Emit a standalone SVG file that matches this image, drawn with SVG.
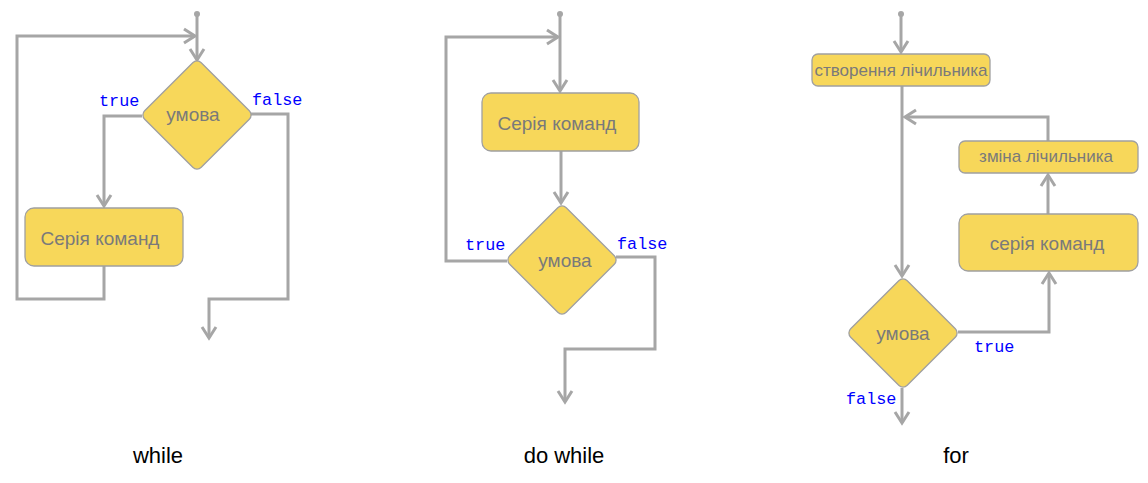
<svg xmlns="http://www.w3.org/2000/svg" width="1148" height="483" viewBox="0 0 1148 483">
<style>
.box{fill:#F7D75A;stroke:#A0A0A0;stroke-width:1.3}
.ln{fill:none;stroke:#A6A6A6;stroke-width:3}
.dot{fill:#A6A6A6}
.t{font-family:"Liberation Sans",Arial,sans-serif;fill:#7A7A7A;text-anchor:middle}
.b{font-family:"Liberation Mono","DejaVu Sans Mono",monospace;fill:#0000FF;font-size:16.8px}
.cap{font-family:"Liberation Sans",Arial,sans-serif;fill:#000;font-size:22px;text-anchor:middle}
</style>
<defs>
<marker id="arr" markerWidth="16" markerHeight="18" refX="13" refY="9" orient="auto" markerUnits="userSpaceOnUse">
<path d="M2,2 L13,9 L2,16" fill="none" stroke="#A6A6A6" stroke-width="3"/>
</marker>
</defs>
<rect width="1148" height="483" fill="#fff"/>
<g id="connectors">
<circle class="dot" cx="197" cy="14" r="3"/>
<path class="ln" d="M197,14 V60" marker-end="url(#arr)"/>
<path class="ln" d="M104,266 V299 H17 V36 H195" marker-end="url(#arr)"/>
<path class="ln" d="M142,116 H104 V206" marker-end="url(#arr)"/>
<path class="ln" d="M251,114 H288 V299 H209 V338" marker-end="url(#arr)"/>
<circle class="dot" cx="560" cy="14" r="3"/>
<path class="ln" d="M560,14 V91" marker-end="url(#arr)"/>
<path class="ln" d="M561,151 V203" marker-end="url(#arr)"/>
<path class="ln" d="M507,261 H446 V37 H558" marker-end="url(#arr)"/>
<path class="ln" d="M616,257 H655 V349 H565 V402" marker-end="url(#arr)"/>
<circle class="dot" cx="901" cy="14" r="3"/>
<path class="ln" d="M901,14 V52" marker-end="url(#arr)"/>
<path class="ln" d="M902,86 V276" marker-end="url(#arr)"/>
<path class="ln" d="M1048,141 V117 H905" marker-end="url(#arr)"/>
<path class="ln" d="M1048,214 V175" marker-end="url(#arr)"/>
<path class="ln" d="M958,332 H1049 V273" marker-end="url(#arr)"/>
<path class="ln" d="M902,388 V423" marker-end="url(#arr)"/>
</g>
<g id="while-cond">
<rect class="box" x="-40" y="-40" width="80" height="80" rx="6" transform="translate(197,115) rotate(45)"/>
<text class="t" x="193" y="121" font-size="19">умова</text>
</g>
<g id="while-body">
<rect class="box" x="25" y="208" width="158" height="58" rx="9"/>
<text class="t" x="100" y="245" font-size="19">Серія команд</text>
</g>
<g id="while-labels">
<text class="b" x="99" y="106">true</text>
<text class="b" x="252" y="105">false</text>
<text class="cap" x="158" y="463">while</text>
</g>
<g id="dowhile-body">
<rect class="box" x="482" y="93" width="157" height="58" rx="9"/>
<text class="t" x="557" y="130" font-size="19">Серія команд</text>
</g>
<g id="dowhile-cond">
<rect class="box" x="-40" y="-40" width="80" height="80" rx="6" transform="translate(562,260) rotate(45)"/>
<text class="t" x="565" y="267" font-size="19">умова</text>
</g>
<g id="dowhile-labels">
<text class="b" x="465" y="250">true</text>
<text class="b" x="617" y="249">false</text>
<text class="cap" x="564" y="463">do while</text>
</g>
<g id="for-init">
<rect class="box" x="812" y="54" width="178" height="32" rx="6"/>
<text class="t" x="901" y="76" font-size="17">створення лічильника</text>
</g>
<g id="for-update">
<rect class="box" x="959" y="141" width="179" height="32" rx="6"/>
<text class="t" x="1046" y="162" font-size="17">зміна лічильника</text>
</g>
<g id="for-body">
<rect class="box" x="959" y="214" width="179" height="57" rx="9"/>
<text class="t" x="1047" y="250" font-size="19">серія команд</text>
</g>
<g id="for-cond">
<rect class="box" x="-40" y="-40" width="80" height="80" rx="6" transform="translate(903,333) rotate(45)"/>
<text class="t" x="903" y="340" font-size="19">умова</text>
</g>
<g id="for-labels">
<text class="b" x="974" y="352">true</text>
<text class="b" x="846" y="404">false</text>
<text class="cap" x="956" y="463">for</text>
</g>
</svg>
